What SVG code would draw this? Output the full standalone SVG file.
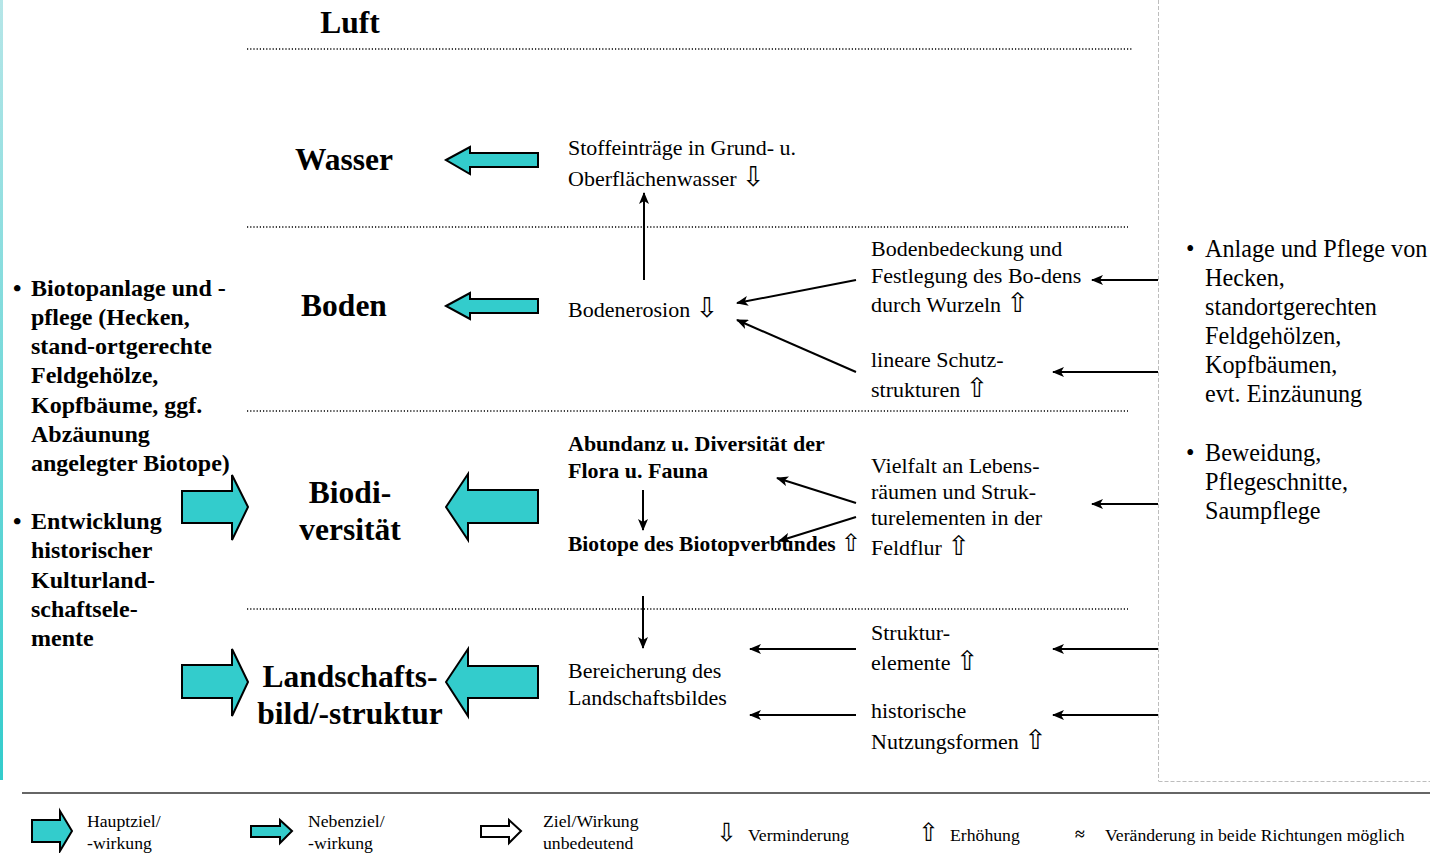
<svg xmlns="http://www.w3.org/2000/svg" width="1430" height="853" viewBox="0 0 1430 853">
  <defs>
    <marker id="ah" markerWidth="12" markerHeight="10" refX="11" refY="5" orient="auto" markerUnits="userSpaceOnUse">
      <path d="M0,0 L12,5 L0,10 L3,5 Z" fill="#000"/>
    </marker>
    <linearGradient id="edge" x1="0" y1="0" x2="0" y2="1">
      <stop offset="0" stop-color="#b6e6e8"/>
      <stop offset="1" stop-color="#33cccc"/>
    </linearGradient>
  </defs>
  <style>
    .t { font-family: "Liberation Serif", "DejaVu Serif", serif; font-size: 22px; fill: #000; }
    .b { font-weight: bold; }
    .h { font-family: "Liberation Serif", "DejaVu Serif", serif; font-size: 31.5px; font-weight: bold; text-anchor: middle; }
    .l { font-family: "Liberation Serif", "DejaVu Serif", serif; font-size: 17.7px; }
    .sym { font-family: "DejaVu Sans", sans-serif; font-weight: normal; font-size: 27px; }
    .dot { stroke: #000; stroke-width: 1.5; stroke-dasharray: 1.2 2; fill: none; }
    .teal { fill: #33cccc; stroke: #000; stroke-width: 2; stroke-linejoin: miter; }
    .white { fill: #fff; stroke: #000; stroke-width: 2; }
    .con { stroke: #000; stroke-width: 2; fill: none; marker-end: url(#ah); }
  </style>

  <!-- page edge accent -->
  <rect x="0" y="0" width="3" height="780" fill="url(#edge)"/>

  <!-- measure box on the right -->
  <g id="measures-frame" fill="none" stroke="#bdbdbd" stroke-width="1" stroke-dasharray="4 2">
    <line x1="1158.5" y1="0" x2="1158.5" y2="781"/>
    <line x1="1158.5" y1="781.5" x2="1430" y2="781.5"/>
  </g>

  <!-- layer separators -->
  <g id="separators">
    <line class="dot" x1="247" y1="49" x2="1133" y2="49"/>
    <line class="dot" x1="247" y1="227" x2="1128" y2="227"/>
    <line class="dot" x1="247" y1="411" x2="1128" y2="411"/>
    <line class="dot" x1="247" y1="609" x2="1128" y2="609"/>
  </g>

  <!-- layer headings -->
  <g id="luft"><text class="h" x="350" y="33">Luft</text></g>
  <g id="wasser"><text class="h" x="344" y="170">Wasser</text></g>
  <g id="boden"><text class="h" x="344" y="316">Boden</text></g>
  <g id="biodiversitaet"><text class="h" x="350" y="503">Biodi-</text><text class="h" x="350" y="540">versität</text></g>
  <g id="landschaft"><text class="h" x="350" y="687">Landschafts-</text><text class="h" x="350" y="724">bild/-struktur</text></g>

  <!-- left measures -->
  <g id="measures-left" class="t b" style="font-size:24px">
    <text x="13" y="296">•</text>
    <text x="31" y="296">Biotopanlage und -</text>
    <text x="31" y="325">pflege (Hecken,</text>
    <text x="31" y="354">stand-ortgerechte</text>
    <text x="31" y="383">Feldgehölze,</text>
    <text x="31" y="413">Kopfbäume, ggf.</text>
    <text x="31" y="442">Abzäunung</text>
    <text x="31" y="471">angelegter Biotope)</text>
    <text x="13" y="529">•</text>
    <text x="31" y="529">Entwicklung</text>
    <text x="31" y="558">historischer</text>
    <text x="31" y="588">Kulturland-</text>
    <text x="31" y="617">schaftsele-</text>
    <text x="31" y="646">mente</text>
  </g>

  <!-- right measures -->
  <g id="measures-right" class="t" style="font-size:24.2px">
    <text x="1186" y="257">•</text>
    <text x="1205" y="257">Anlage und Pflege von</text>
    <text x="1205" y="286">Hecken,</text>
    <text x="1205" y="315">standortgerechten</text>
    <text x="1205" y="344">Feldgehölzen,</text>
    <text x="1205" y="373">Kopfbäumen,</text>
    <text x="1205" y="402">evt. Einzäunung</text>
    <text x="1186" y="461">•</text>
    <text x="1205" y="461">Beweidung,</text>
    <text x="1205" y="490">Pflegeschnitte,</text>
    <text x="1205" y="519">Saumpflege</text>
  </g>

  <!-- effects -->
  <g id="stoffeintraege" class="t">
    <text x="568" y="155">Stoffeinträge in Grund- u.</text>
    <text x="568" y="186">Oberflächenwasser <tspan class="sym">⇩</tspan></text>
  </g>
  <g id="bodenerosion" class="t">
    <text x="568" y="317">Bodenerosion <tspan class="sym">⇩</tspan></text>
  </g>
  <g id="bodenbedeckung" class="t">
    <text x="871" y="256">Bodenbedeckung und</text>
    <text x="871" y="283">Festlegung des Bo-dens</text>
    <text x="871" y="312">durch Wurzeln <tspan class="sym">⇧</tspan></text>
  </g>
  <g id="schutzstrukturen" class="t">
    <text x="871" y="367">lineare Schutz-</text>
    <text x="871" y="397">strukturen  <tspan class="sym">⇧</tspan></text>
  </g>
  <g id="abundanz" class="t b" style="font-size:22px">
    <text x="568" y="451">Abundanz u. Diversität der</text>
    <text x="568" y="478">Flora u. Fauna</text>
  </g>
  <g id="biotope" class="t b" style="font-size:21.5px">
    <text x="568" y="551">Biotope des Biotopverbundes <tspan class="sym" style="font-size:24px">⇧</tspan></text>
  </g>
  <g id="vielfalt" class="t">
    <text x="871" y="473">Vielfalt an Lebens-</text>
    <text x="871" y="499">räumen und Struk-</text>
    <text x="871" y="525">turelementen in der</text>
    <text x="871" y="555">Feldflur <tspan class="sym">⇧</tspan></text>
  </g>
  <g id="bereicherung" class="t">
    <text x="568" y="678">Bereicherung des</text>
    <text x="568" y="705">Landschaftsbildes</text>
  </g>
  <g id="strukturelemente" class="t">
    <text x="871" y="640">Struktur-</text>
    <text x="871" y="670">elemente <tspan class="sym">⇧</tspan></text>
  </g>
  <g id="nutzungsformen" class="t">
    <text x="871" y="718">historische</text>
    <text x="871" y="749">Nutzungsformen <tspan class="sym">⇧</tspan></text>
  </g>

  <!-- block arrows -->
  <g id="block-arrows">
    <path class="teal" d="M446,160 L470,147 L470,153 L538,153 L538,167 L470,167 L470,174 Z"/>
    <path class="teal" d="M446,306 L470,293 L470,299 L538,299 L538,313 L470,313 L470,319 Z"/>
    <path class="teal" d="M446,507 L468,474 L468,490 L538,490 L538,523 L468,523 L468,540 Z"/>
    <path class="teal" d="M446,682 L468,649 L468,666 L538,666 L538,698 L468,698 L468,716 Z"/>
    <path class="teal" d="M248,507 L232,475 L232,491 L182,491 L182,523 L232,523 L232,540 Z"/>
    <path class="teal" d="M248,682 L232,649 L232,665 L182,665 L182,698 L232,698 L232,716 Z"/>
  </g>

  <!-- connectors -->
  <g id="connectors">
    <line class="con" x1="644" y1="280" x2="644" y2="193"/>
    <line class="con" x1="856" y1="280" x2="737" y2="303"/>
    <line class="con" x1="856" y1="372" x2="737" y2="320"/>
    <line class="con" x1="1158" y1="280" x2="1092" y2="280"/>
    <line class="con" x1="1158" y1="372" x2="1053" y2="372"/>
    <line class="con" x1="643" y1="490" x2="643" y2="530"/>
    <line class="con" x1="856" y1="503" x2="777" y2="478"/>
    <line class="con" x1="856" y1="517" x2="779" y2="541"/>
    <line class="con" x1="1158" y1="504" x2="1092" y2="504"/>
    <line class="con" x1="643" y1="596" x2="643" y2="648"/>
    <line class="con" x1="856" y1="649" x2="750" y2="649"/>
    <line class="con" x1="856" y1="715" x2="750" y2="715"/>
    <line class="con" x1="1158" y1="649" x2="1053" y2="649"/>
    <line class="con" x1="1158" y1="715" x2="1053" y2="715"/>
  </g>

  <!-- legend -->
  <g id="legend">
    <line x1="22" y1="793" x2="1430" y2="793" stroke="#666" stroke-width="2"/>
    <path class="teal" d="M72,831 L60,811 L60,820 L32,820 L32,842 L60,842 L60,851 Z"/>
    <text class="l" x="87" y="827">Hauptziel/</text>
    <text class="l" x="87" y="849">-wirkung</text>
    <path class="teal" d="M292,831 L280,820 L280,826 L251,826 L251,837 L280,837 L280,843 Z"/>
    <text class="l" x="308" y="827">Nebenziel/</text>
    <text class="l" x="308" y="849">-wirkung</text>
    <path class="white" d="M521,831 L509,820 L509,826 L481,826 L481,837 L509,837 L509,843 Z"/>
    <text class="l" x="543" y="827">Ziel/Wirkung</text>
    <text class="l" x="543" y="849">unbedeutend</text>
    <text class="sym" x="716" y="841" style="font-size:25px">⇩</text>
    <text class="l" x="748" y="841">Verminderung</text>
    <text class="sym" x="918" y="841" style="font-size:25px">⇧</text>
    <text class="l" x="950" y="841">Erhöhung</text>
    <text class="l" x="1075" y="840" font-weight="bold">≈</text>
    <text class="l" x="1105" y="841">Veränderung in beide Richtungen möglich</text>
  </g>
</svg>
